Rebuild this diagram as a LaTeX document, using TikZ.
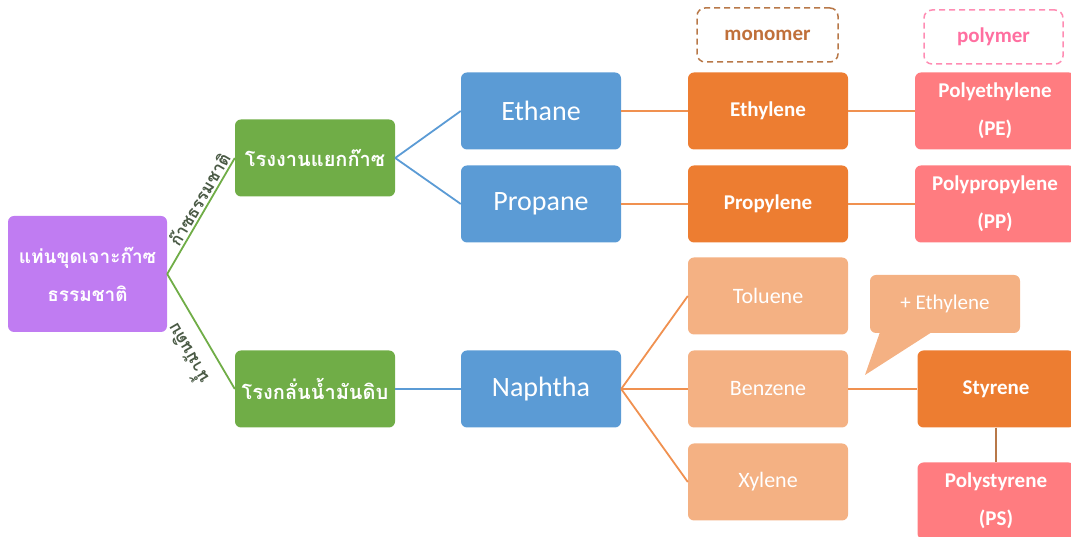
\documentclass[tikz,border=0pt]{standalone}
\usepackage{fontspec}
\setmainfont{Carlito}
\newfontfamily\thaifont[Script=Thai]{Loma}
\definecolor{cpurple}{HTML}{C07CF2}
\definecolor{cgreen}{HTML}{70AD47}
\definecolor{cblue}{HTML}{5B9BD5}
\definecolor{corange}{HTML}{ED7D31}
\definecolor{clight}{HTML}{F4B183}
\definecolor{cpink}{HTML}{FF7C80}
\definecolor{cbrown}{HTML}{B87848}
\definecolor{cmono}{HTML}{C0703A}
\definecolor{cpoly}{HTML}{FF6FA0}
\definecolor{clab}{HTML}{4A5A45}
\tikzset{
  box/.style={rounded corners=6pt, minimum width=160pt, minimum height=77pt, text=white, align=center, inner sep=2pt},
  purplebox/.style={box, fill=cpurple, minimum width=159pt, minimum height=116pt, font=\thaifont\bfseries\fontsize{19}{38}\selectfont},
  greenbox/.style={box, fill=cgreen, font=\thaifont\bfseries\fontsize{20}{38}\selectfont},
  bluebox/.style={box, fill=cblue, font=\fontsize{28}{34}\selectfont},
  orangebox/.style={box, fill=corange, font=\bfseries\fontsize{21}{38}\selectfont},
  lightbox/.style={box, fill=clight, font=\fontsize{22}{38}\selectfont},
  pinkbox/.style={box, fill=cpink, font=\bfseries\fontsize{21}{38}\selectfont},
  dashbox/.style={rounded corners=8pt, dashed, dash pattern=on 6pt off 4pt, line width=1.5pt, minimum height=54pt, font=\bfseries\fontsize{21}{26}\selectfont},
  gline/.style={cgreen, line width=1.8pt},
  bline/.style={cblue, line width=1.8pt},
  oline/.style={corange!85!white, line width=1.8pt},
  edgelab/.style={text=clab, font=\thaifont\bfseries\fontsize{17}{20}\selectfont, inner sep=1pt},
}
\begin{document}
\begin{tikzpicture}[x=1pt,y=1pt]
\useasboundingbox (0,0) rectangle (1071,537);
% nodes
\node[purplebox] (rig) at (87.5,263) {แท่นขุดเจาะก๊าซ\\ธรรมชาติ};
\node[greenbox] (gsp) at (315,379) {โรงงานแยกก๊าซ};
\node[greenbox] (ref) at (315,148) {โรงกลั่นน้ำมันดิบ};
\node[bluebox] (ethane) at (541,426) {Ethane};
\node[bluebox] (propane) at (541,333) {Propane};
\node[bluebox] (naphtha) at (541,148) {Naphtha};
\node[orangebox] (ethylene) at (768,426) {Ethylene};
\node[orangebox] (propylene) at (768,333) {Propylene};
\node[lightbox] (toluene) at (768,241) {Toluene};
\node[lightbox] (benzene) at (768,148) {Benzene};
\node[lightbox] (xylene) at (768,55) {Xylene};
\node[pinkbox] (pe) at (995,426) {Polyethylene\\(PE)};
\node[pinkbox] (pp) at (995,333) {Polypropylene\\(PP)};
\node[orangebox, minimum width=157pt] (styrene) at (996,148) {Styrene};
\node[pinkbox, minimum width=157pt] (ps) at (996,36) {Polystyrene\\(PS)};
\node[dashbox, draw=cbrown, text=cmono, minimum width=141pt] (mono) at (767.5,502) {monomer};
\node[dashbox, draw=cpoly!80!white, text=cpoly, minimum width=139pt] (poly) at (993.5,500) {polymer};
% callout
\fill[clight] (880,205) -- (932,205) -- (865,162) -- cycle;
\node[box, fill=clight, minimum width=150pt, minimum height=58pt, font=\fontsize{21}{26}\selectfont] (call) at (945,233) {+ Ethylene};
% connectors
\draw[gline] (rig.east) -- (gsp.west) node[edgelab, pos=0.6, sloped, above=1pt] {ก๊าซธรรมชาติ};
\draw[gline] (rig.east) -- (ref.west);
\node[edgelab, rotate=120] (oil) at (186,182) {น้ำมันดิบ};
\draw[bline] (gsp.east) -- (ethane.west);
\draw[bline] (gsp.east) -- (propane.west);
\draw[bline] (ref.east) -- (naphtha.west);
\draw[oline] (ethane.east) -- (ethylene.west);
\draw[oline] (propane.east) -- (propylene.west);
\draw[oline] (ethylene.east) -- (pe.west);
\draw[oline] (propylene.east) -- (pp.west);
\draw[oline] (naphtha.east) -- (toluene.west);
\draw[oline] (naphtha.east) -- (benzene.west);
\draw[oline] (naphtha.east) -- (xylene.west);
\draw[oline] (benzene.east) -- (styrene.west);
\draw[cbrown, line width=1.8pt] (styrene.south) -- (ps.north);
\end{tikzpicture}
\end{document}
